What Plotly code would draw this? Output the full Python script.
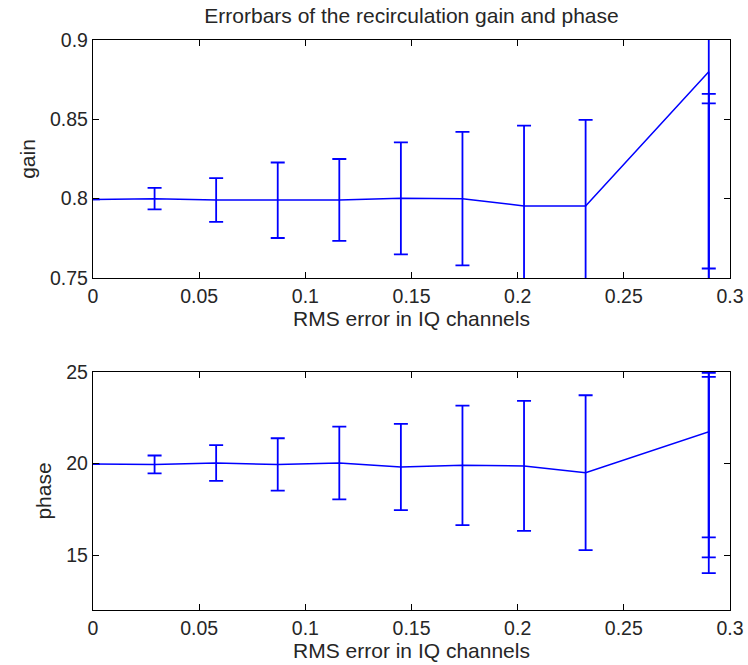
import plotly.graph_objects as go
from plotly.subplots import make_subplots

# RMS error levels in the IQ channels (the last level has three runs)
rms_error = [0, 0.029, 0.058, 0.087, 0.116, 0.145, 0.174, 0.203, 0.232, 0.29, 0.29, 0.29]

# Recirculation gain: mean and error half-width
gain = [0.7995, 0.8000, 0.7992, 0.7990, 0.7992, 0.8002, 0.8000, 0.7954, 0.7954, 0.880, 0.800, 0.795]
gain_err = [0, 0.0068, 0.0138, 0.0238, 0.0258, 0.0353, 0.0421, 0.0506, 0.0542, 0.124, 0.066, 0.065]

# Recirculation phase: mean and error half-width
phase = [19.97, 19.95, 20.03, 19.95, 20.03, 19.81, 19.90, 19.87, 19.50, 21.73, 19.91, 19.37]
phase_err = [0, 0.49, 0.98, 1.43, 1.99, 2.36, 3.26, 3.55, 4.23, 5.76, 5.04, 5.36]

x_ticks = [0, 0.05, 0.1, 0.15, 0.2, 0.25, 0.3]
x_labels = ["0", "0.05", "0.1", "0.15", "0.2", "0.25", "0.3"]
gain_ticks = [0.75, 0.8, 0.85, 0.9]
gain_labels = ["0.75", "0.8", "0.85", "0.9"]
phase_ticks = [15, 20, 25]
phase_labels = ["15", "20", "25"]

BLUE = "#0000ff"
FONT = "Liberation Sans, Arial, Helvetica, sans-serif"
TEXT = "#262626"
TICK_SIZE = 19.5
LABEL_SIZE = 21

fig = make_subplots(rows=2, cols=1, vertical_spacing=0.165)

for row, y, err in [(1, gain, gain_err), (2, phase, phase_err)]:
    fig.add_trace(
        go.Scatter(
            x=rms_error, y=y, mode="lines",
            line=dict(color=BLUE, width=1.5),
            error_y=dict(type="data", array=err, visible=True,
                         color=BLUE, thickness=1.8, width=7),
            showlegend=False, hoverinfo="skip",
        ),
        row=row, col=1,
    )

axis_style = dict(
    showline=True, linecolor="black", linewidth=1.4, mirror="ticks",
    ticks="inside", ticklen=6, tickcolor="black", tickwidth=1.2,
    showgrid=False, zeroline=False, automargin=False,
    tickfont=dict(family=FONT, size=TICK_SIZE, color=TEXT),
)

for row in (1, 2):
    fig.update_xaxes(
        range=[0, 0.3], tickvals=x_ticks, ticktext=x_labels,
        title=dict(text="RMS error in IQ channels",
                   font=dict(family=FONT, size=LABEL_SIZE, color=TEXT), standoff=2),
        row=row, col=1, **axis_style,
    )

fig.update_yaxes(range=[0.75, 0.9], tickvals=gain_ticks, ticktext=gain_labels,
                 title=dict(text="gain", font=dict(family=FONT, size=LABEL_SIZE, color=TEXT), standoff=8),
                 row=1, col=1, **axis_style)
fig.update_yaxes(range=[12, 25], tickvals=phase_ticks, ticktext=phase_labels,
                 title=dict(text="phase", font=dict(family=FONT, size=LABEL_SIZE, color=TEXT), standoff=8),
                 row=2, col=1, **axis_style)

fig.update_layout(
    width=748, height=665,
    margin=dict(l=93, r=18, t=40, b=55),
    paper_bgcolor="white", plot_bgcolor="white",
    title=dict(text="Errorbars of the recirculation gain and phase",
               xref="paper", x=0.5, xanchor="center",
               yref="container", y=1 - 16 / 665, yanchor="middle",
               font=dict(family=FONT, size=LABEL_SIZE, color=TEXT)),
)
fig.update_layout(xaxis=dict(domain=[0, 1]), yaxis=dict(domain=[332 / 570, 1]),
                  xaxis2=dict(domain=[0, 1]), yaxis2=dict(domain=[0, 238 / 570]))

fig.write_html("out.html")
